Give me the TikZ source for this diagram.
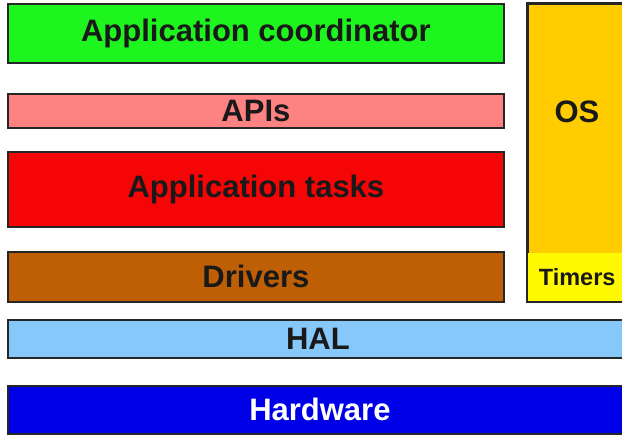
\documentclass[tikz,border=0pt]{standalone}
\usepackage{fontspec}
\setmainfont{Liberation Sans}
\definecolor{cgreen}{RGB}{30,245,30}
\definecolor{capi}{RGB}{255,130,130}
\definecolor{cred}{RGB}{245,5,5}
\definecolor{cdrv}{RGB}{190,95,5}
\definecolor{cos}{RGB}{255,204,0}
\definecolor{ctim}{RGB}{255,250,0}
\definecolor{chal}{RGB}{135,200,250}
\definecolor{chw}{RGB}{0,0,230}
\begin{document}
\begin{tikzpicture}[x=1pt,y=-1pt,
  layer/.style={draw=black!85, line width=1.8pt, inner sep=0pt, anchor=north west,
    text=black!90, font=\fontsize{31}{31}\selectfont\bfseries},
  plain/.style={inner sep=0pt, text=black!90, font=\fontsize{31}{31}\selectfont\bfseries}
]
\useasboundingbox (0,0) rectangle (622,436);
\fill[white] (0,0) rectangle (622,436);
\begin{scope}
\clip (0,0) rectangle (622,436);
\node[layer, fill=cgreen, minimum width=496pt, minimum height=59pt] (coord) at (7,3) {Application coordinator};
\node[layer, fill=capi, minimum width=496pt, minimum height=34pt] (apis) at (7,93) {APIs};
\node[layer, fill=cred, minimum width=496pt, minimum height=75pt] (tasks) at (7,151) {Application tasks};
\node[layer, fill=cdrv, minimum width=496pt, minimum height=50pt] (drivers) at (7,251) {Drivers};
\node[layer, fill=cos, minimum width=100pt, minimum height=297pt] (os) at (527,3) {};
\node[inner sep=0pt, anchor=south west, fill=ctim, minimum width=100pt, minimum height=49pt] (timersbg) at (os.south west) {};
\draw[draw=black!85, line width=1.8pt] (os.north west) rectangle (os.south east);
\node[plain] (oslabel) at (577,112) {OS};
\node[plain, font=\fontsize{23.5}{23.5}\selectfont\bfseries] (timers) at (timersbg.center) {Timers};
\node[layer, fill=chal, minimum width=620pt, minimum height=38pt] (hal) at (7,319) {HAL};
\node[layer, fill=chw, text=white, minimum width=624pt, minimum height=48pt] (hw) at (7,385) {Hardware};
\end{scope}
\end{tikzpicture}
\end{document}
